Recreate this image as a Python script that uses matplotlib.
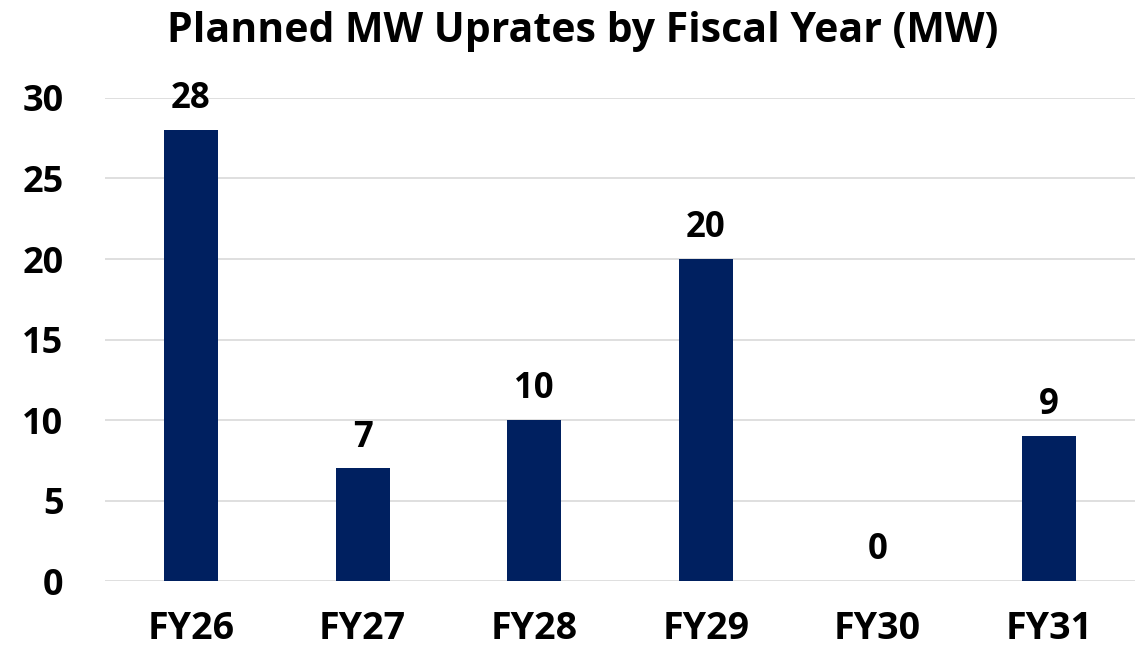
import matplotlib
matplotlib.use("Agg")
import matplotlib.pyplot as plt

# chart data
years = ["FY26", "FY27", "FY28", "FY29", "FY30", "FY31"]
uprates_mw = [28, 7, 10, 20, 0, 9]
y_ticks = [0, 5, 10, 15, 20, 25, 30]

plt.rcParams["font.family"] = ["Open Sans", "DejaVu Sans"]

fig = plt.figure(figsize=(11.43, 6.53), dpi=100)
ax = fig.add_axes([0.092, 0.110, 0.901, 0.740])

x = list(range(len(years)))
ax.bar(x, uprates_mw, width=0.315, color="#002060", zorder=3)

for xi, v in zip(x, uprates_mw):
    ax.text(xi, v + 0.8, str(v), ha="center", va="bottom",
            fontsize=25, fontweight="bold", color="black", clip_on=False)

ax.set_xlim(-0.5, len(years) - 0.5)
ax.set_ylim(0, 30)
ax.set_yticks(y_ticks)
ax.set_xticks(x)
ax.set_xticklabels(years)
ax.tick_params(axis="both", length=0)
ax.tick_params(axis="x", pad=21, labelsize=27)
ax.tick_params(axis="y", pad=30, labelsize=26)
for lbl in ax.get_xticklabels() + ax.get_yticklabels():
    lbl.set_fontweight("bold")

ax.grid(axis="y", color="#d9d9d9", linewidth=1.2, zorder=0)
for s in ax.spines.values():
    s.set_visible(False)

fig.text(0.51, 0.952, "Planned MW Uprates by Fiscal Year (MW)",
         ha="center", va="center", fontsize=29.5, fontweight="bold")

fig.savefig("out.png", dpi=100)
